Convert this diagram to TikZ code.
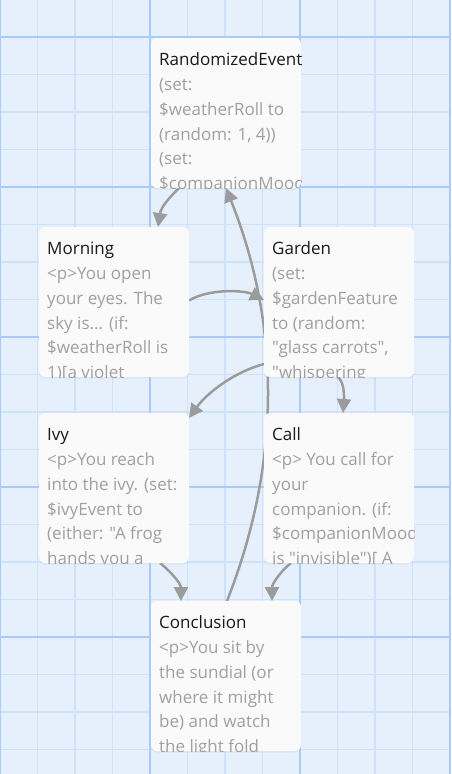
\documentclass[tikz,border=0pt]{standalone}
\usepackage{fontspec}
\setmainfont{Open Sans}[Ligatures=TeXOff]
\usetikzlibrary{arrows.meta,shadows}
\definecolor{bg}{RGB}{230,240,253}
\definecolor{gminor}{RGB}{206,226,251}
\definecolor{gmajor}{RGB}{168,204,247}
\definecolor{cardfill}{RGB}{250,250,250}
\definecolor{ttlcol}{RGB}{25,25,25}
\definecolor{bodycol}{RGB}{160,160,160}
\definecolor{linkgray}{RGB}{155,155,155}
\pgfdeclarelayer{gridlayer}
\pgfdeclarelayer{edgelayer}
\pgfsetlayers{gridlayer,edgelayer,main}
\newcommand\tdots{...}
\tikzset{
  card/.style={anchor=north west, minimum width=150pt, minimum height=150pt,
    inner sep=0pt, outer sep=0pt, fill=cardfill, rounded corners=6pt,
    drop shadow={opacity=0.10, shadow xshift=0pt, shadow yshift=-1.5pt}},
  ttl/.style={anchor=base west, inner sep=0pt, text=ttlcol,
    font=\fontsize{17}{20}\selectfont},
  bdy/.style={anchor=base west, inner sep=0pt, text=bodycol,
    font=\fontsize{17}{20}\selectfont},
  gminorline/.style={draw=gminor, line width=1.3pt},
  gmajorline/.style={draw=gmajor, line width=1.8pt},
  link/.style={draw=linkgray, line width=2.5pt,
    -{Triangle[length=14pt,width=14pt]}}
}
\newcommand\passage[5]{%
  \node[card] (#1) at (#2,#3) {};
  \begin{scope}
    \clip[rounded corners=6pt] (#1.south west) rectangle (#1.north east);
    \node[ttl] (#1-t) at ([shift={(8pt,-27.7pt)}]#1.north west) {#4};
    \foreach \txt [count=\k] in {#5} {
      \pgfmathsetmacro\yy{-27.7-24.8*\k}
      \node[bdy] (#1-\k) at ([shift={(8pt,\yy pt)}]#1.north west) {\txt};
    }
  \end{scope}
}
\begin{document}
\begin{tikzpicture}[x=1pt,y=-1pt]
\useasboundingbox (0,0) rectangle (451,774);
\begin{pgfonlayer}{gridlayer}
  \fill[bg] (0,0) rectangle (451,774);
  \foreach \i in {0,...,12} {\draw[gminorline] (\i*37.5,0) -- (\i*37.5,774);}
  \foreach \i in {0,...,21} {\draw[gminorline] (0,\i*37.5-0.5) -- (451,\i*37.5-0.5);}
  \foreach \xx in {0,150,300,450} {\draw[gmajorline] (\xx,0) -- (\xx,774);}
  \foreach \yv in {37,187,337,487,637} {\draw[gmajorline] (0,\yv) -- (451,\yv);}
\end{pgfonlayer}

\passage{re}{151}{38}{RandomizedEvent}{{(set:},{\$weatherRoll to},{(random: 1, 4))},{(set:},{\$companionMood}}
\passage{morning}{39}{227}{Morning}{{<p>You open},{your eyes. The},{sky is\tdots{} (if:},{\$weatherRoll is},{1)[a violet}}
\passage{garden}{264}{227}{Garden}{{(set:},{\$gardenFeature},{to (random:},{"glass carrots",},{"whispering}}
\passage{ivy}{39}{413}{Ivy}{{<p>You reach},{into the ivy. (set:},{\$ivyEvent to},{(either: "A frog},{hands you a}}
\passage{call}{264}{413}{Call}{{<p> You call for},{your},{companion. (if:},{\$companionMood},{is "invisible")[ A}}
\passage{conclusion}{151}{601}{Conclusion}{{<p>You sit by},{the sundial (or},{where it might},{be) and watch},{the light fold}}

\begin{pgfonlayer}{edgelayer}
  \draw[link] ([xshift=28pt]re.south west) .. controls +(-10,10) and +(3,-20) .. ([xshift=119pt]morning.north west);
  \draw[link] ([xshift=76pt]conclusion.north west) .. controls +(54,-137) and +(55,138) .. ([xshift=75pt]re.south west);
  \draw[link] ([yshift=1.5pt]morning.east) .. controls +(20,-12) and +(-20,-10) .. ([yshift=2pt]garden.west);
  \draw[link] ([yshift=13pt]garden.south west) .. controls +(-30,8) and +(18,-25) .. ([yshift=-5pt]ivy.north east);
  \draw[link] ([xshift=-1pt]garden.south) .. controls +(7,6) and +(1,-14) .. ([xshift=4pt]call.north);
  \draw[link] ([xshift=121pt]ivy.south west) .. controls +(8,6) and +(0,-18) .. ([xshift=30pt]conclusion.north west);
  \draw[link] ([xshift=27pt]call.south west) .. controls +(-8,6) and +(0,-18) .. ([xshift=121pt]conclusion.north west);
\end{pgfonlayer}
\end{tikzpicture}
\end{document}
